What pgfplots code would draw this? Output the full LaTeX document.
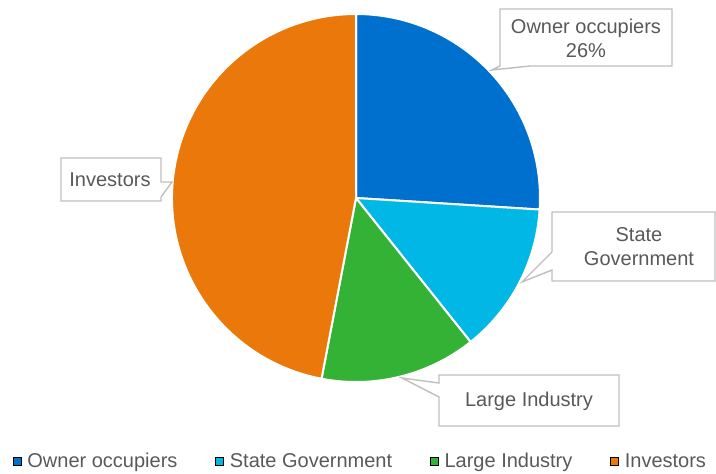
\documentclass[border=0pt]{standalone}
\usepackage{pgfplots}
\usepackage{pgfplotstable}
\pgfplotsset{compat=1.18}
\usepackage{fontspec}
\setmainfont{Liberation Sans}

\definecolor{cOwner}{RGB}{0,112,206}
\definecolor{cState}{RGB}{0,183,230}
\definecolor{cLarge}{RGB}{52,178,54}
\definecolor{cInvest}{RGB}{234,120,10}
\definecolor{txt}{RGB}{89,89,89}
\definecolor{boxline}{RGB}{191,191,191}

% shares in percent, clockwise from 12 o'clock
\pgfplotstableread{
name value
Owner 26
State 13.3
Large 13.7
Investors 47
}\pietable

\pgfplotstablegetelem{0}{value}\of\pietable \pgfmathsetmacro\vA{\pgfplotsretval}
\pgfplotstablegetelem{1}{value}\of\pietable \pgfmathsetmacro\vB{\pgfplotsretval}
\pgfplotstablegetelem{2}{value}\of\pietable \pgfmathsetmacro\vC{\pgfplotsretval}
\pgfplotstablegetelem{3}{value}\of\pietable \pgfmathsetmacro\vD{\pgfplotsretval}
\pgfmathsetmacro\aA{90-3.6*\vA}
\pgfmathsetmacro\aB{\aA-3.6*\vB}
\pgfmathsetmacro\aC{\aB-3.6*\vC}
\pgfmathsetmacro\aD{\aC-3.6*\vD}

\begin{document}
\begin{tikzpicture}
\begin{axis}[
    width=716pt, height=474pt, scale only axis,
    xmin=0, xmax=716, ymin=0, ymax=474, y dir=reverse,
    hide axis, clip=false,
    font=\fontsize{20}{24}\selectfont,
    legend columns=4,
    legend style={at={(axis cs:360.5,461)}, anchor=center, draw=none, fill=none,
        text=txt, font=\fontsize{20}{24}\selectfont,
        nodes={inner xsep=2pt, inner ysep=0pt},
        /tikz/every even column/.append style={column sep=36pt}},
    legend image code/.code={\fill[#1] (0pt,-4pt) rectangle (8pt,4pt); \path (12pt,0pt);},
]
\path (axis cs:0,0) rectangle (axis cs:716,474);

\addlegendimage{fill=cOwner}
\addlegendentry{Owner occupiers}
\addlegendimage{fill=cState}
\addlegendentry{State Government}
\addlegendimage{fill=cLarge}
\addlegendentry{Large Industry}
\addlegendimage{fill=cInvest}
\addlegendentry{Investors}

\tikzset{slice/.style={draw=white, line width=2pt, line join=round}}
\filldraw[slice, fill=cOwner] (axis cs:356,198) -- ++(90:184pt)
    arc[start angle=90, end angle=\aA, radius=184pt] -- cycle;
\filldraw[slice, fill=cState] (axis cs:356,198) -- ++(\aA:184pt)
    arc[start angle=\aA, end angle=\aB, radius=184pt] -- cycle;
\filldraw[slice, fill=cLarge] (axis cs:356,198) -- ++(\aB:184pt)
    arc[start angle=\aB, end angle=\aC, radius=184pt] -- cycle;
\filldraw[slice, fill=cInvest] (axis cs:356,198) -- ++(\aC:184pt)
    arc[start angle=\aC, end angle=\aD, radius=184pt] -- cycle;

% callouts
\tikzset{callout/.style={draw=boxline, fill=white, line width=1.4pt, line join=miter}}
\filldraw[callout] (axis cs:500,9) -- (axis cs:672,9) -- (axis cs:672,66)
    -- (axis cs:530,66) -- (axis cs:492,70) -- (axis cs:500,66) -- cycle;
\node[text=txt, align=center] at (axis cs:586,38) {Owner occupiers\\26\%};

\filldraw[callout] (axis cs:552,212) -- (axis cs:715,212) -- (axis cs:715,281)
    -- (axis cs:552,281) -- (axis cs:552,270) -- (axis cs:522,282)
    -- (axis cs:552,252) -- cycle;
\node[text=txt, align=center] at (axis cs:639,247) {State\\Government};

\filldraw[callout] (axis cs:439,375) -- (axis cs:619,375) -- (axis cs:619,426)
    -- (axis cs:439,426) -- (axis cs:439,397) -- (axis cs:402,378)
    -- (axis cs:439,383) -- cycle;
\node[text=txt] at (axis cs:529,401) {Large Industry};

\filldraw[callout] (axis cs:61,158) -- (axis cs:161,158) -- (axis cs:161,182)
    -- (axis cs:172,182) -- (axis cs:161,197) -- (axis cs:161,201)
    -- (axis cs:61,201) -- cycle;
\node[text=txt] at (axis cs:110,180) {Investors};
\end{axis}
\end{tikzpicture}
\end{document}
